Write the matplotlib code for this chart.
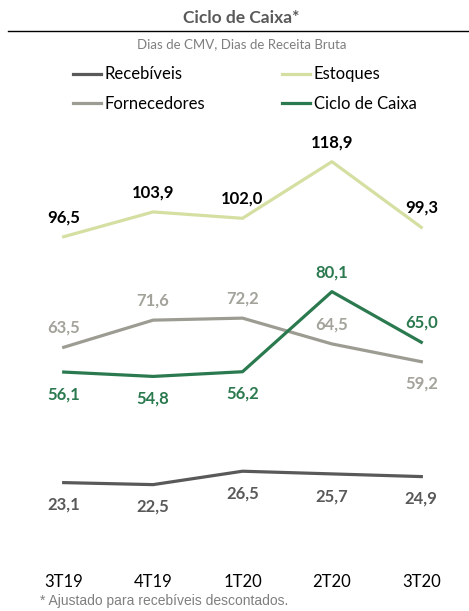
import matplotlib
matplotlib.use("Agg")
import matplotlib.pyplot as plt
from matplotlib.lines import Line2D

plt.rcParams['font.family'] = ['Lato', 'DejaVu Sans']

quarters = ["3T19", "4T19", "1T20", "2T20", "3T20"]
recebiveis = [23.1, 22.5, 26.5, 25.7, 24.9]
estoques = [96.5, 103.9, 102.0, 118.9, 99.3]
fornecedores = [63.5, 71.6, 72.2, 64.5, 59.2]
ciclo = [56.1, 54.8, 56.2, 80.1, 65.0]

C_REC = "#595959"
C_EST = "#d6dfa2"
C_FOR = "#9c9c92"
C_CIC = "#2b7a4f"


def fmt(v):
    return ("%.1f" % v).replace(".", ",")


def labels(ax, values, color, sides):
    for i, v in enumerate(values):
        dy = 14 if sides[i] > 0 else -16
        ax.annotate(fmt(v), (i, v), xytext=(0, dy), textcoords="offset points",
                    ha="center", va="center", fontsize=12, fontweight="bold", color=color)


fig = plt.figure(figsize=(4.69, 6.11), dpi=100)
ax = fig.add_axes([19 / 469, 51 / 611, 447 / 469, 469 / 611])
ax.set_xlim(-0.5, 4.5)
ax.set_ylim(0, 140)

x = range(len(quarters))
lw = 2.3
ax.plot(x, recebiveis, color=C_REC, lw=lw, label="Recebíveis")
ax.plot(x, estoques, color=C_EST, lw=lw, label="Estoques")
ax.plot(x, fornecedores, color=C_FOR, lw=lw, label="Fornecedores")
ax.plot(x, ciclo, color=C_CIC, lw=lw, label="Ciclo de Caixa")

labels(ax, estoques, "black", [1, 1, 1, 1, 1])
labels(ax, fornecedores, "#a3a39b", [1, 1, 1, 1, -1])
labels(ax, ciclo, C_CIC, [-1, -1, -1, 1, 1])
labels(ax, recebiveis, C_REC, [-1, -1, -1, -1, -1])

ax.set_xticks(list(x))
ax.set_xticklabels(quarters, fontsize=12, color="black")
ax.tick_params(axis="x", length=0, pad=10)
ax.set_yticks([])
for s in ax.spines.values():
    s.set_visible(False)

fig.text(0.514, 1 - 18 / 611, "Ciclo de Caixa*", ha="center", va="center",
         fontsize=12.5, fontweight="bold", color="#595959")
fig.add_artist(Line2D([8 / 469, 1], [1 - 31 / 611, 1 - 31 / 611], color="black", lw=1))
fig.text(0.516, 1 - 44 / 611, "Dias de CMV, Dias de Receita Bruta", ha="center", va="center",
         fontsize=9.5, color="#7f7f7f")

handles, names = ax.get_legend_handles_labels()
order = [0, 2, 1, 3]
fig.legend([handles[i] for i in order], [names[i] for i in order], ncol=2,
           loc="center left", bbox_to_anchor=(73 / 469, 1 - 89 / 611), frameon=False,
           fontsize=12, handlelength=1.7, handletextpad=0.2, columnspacing=4.6,
           labelspacing=0.8, borderaxespad=0, borderpad=0)

fig.text(40 / 469, 3 / 611, "* Ajustado para recebíveis descontados.", ha="left", va="bottom",
         fontsize=10, color="#7f7f7f", family=["Liberation Sans", "DejaVu Sans"])

fig.savefig("out.png", dpi=100)
